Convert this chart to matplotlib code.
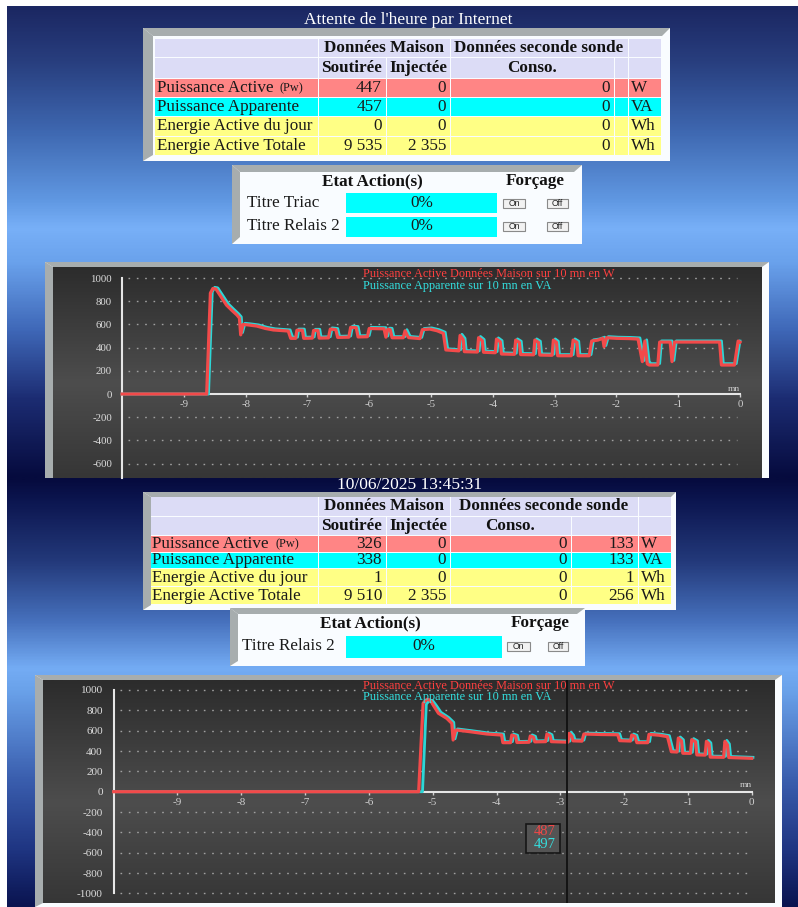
import numpy as np
import matplotlib
matplotlib.use("Agg")
import matplotlib.pyplot as plt
from matplotlib.patches import Rectangle, Polygon
from matplotlib.colors import LinearSegmentedColormap

plt.rcParams['font.family'] = ['Liberation Serif', 'DejaVu Serif']

W, H = 798, 907

# ---------------- data ----------------
titles = ["Attente de l'heure par Internet", "10/06/2025 13:45:31"]
row_labels = ["Puissance Active", "Puissance Apparente", "Energie Active du jour", "Energie Active Totale"]
units = ["W", "VA", "Wh", "Wh"]
col_heads = ["Soutirée", "Injectée", "Conso."]
group_heads = ["Données Maison", "Données seconde sonde"]

top_soutiree = ["447", "457", "0", "9 535"]
top_injectee = ["0", "0", "0", "2 355"]
top_conso = ["0", "0", "0", "0"]

bot_soutiree = ["326", "338", "1", "9 510"]
bot_injectee = ["0", "0", "0", "2 355"]
bot_conso = ["0", "0", "0", "0"]
bot_sonde2 = ["133", "133", "1", "256"]

top_actions = ["Titre Triac", "Titre Relais 2"]
top_action_vals = ["0%", "0%"]
bot_actions = ["Titre Relais 2"]
bot_action_vals = ["0%"]

legend_active = "Puissance Active Données Maison sur 10 mn en W"
legend_apparent = "Puissance Apparente sur 10 mn en VA"

x_ticks = [-9, -8, -7, -6, -5, -4, -3, -2, -1, 0]
y_ticks_top = [-600, -400, -200, 0, 200, 400, 600, 800, 1000]
y_ticks_bot = [-1000, -800, -600, -400, -200, 0, 200, 400, 600, 800, 1000]

# (minutes, W)
active_top = [(-10, 0), (-8.63, 0), (-8.57, 870), (-8.53, 910), (-8.48, 905), (-8.40, 840), (-8.31, 767),
              (-8.22, 720), (-8.14, 681), (-8.10, 655), (-8.08, 510), (-8.04, 600), (-7.95, 595), (-7.82, 586),
              (-7.68, 565), (-7.55, 552), (-7.31, 543), (-7.27, 480),
              (-7.19, 480), (-7.17, 550), (-7.08, 550), (-7.06, 480),
              (-6.92, 482), (-6.90, 548), (-6.83, 548), (-6.81, 482),
              (-6.66, 484), (-6.63, 560), (-6.54, 555), (-6.51, 488),
              (-6.33, 490), (-6.30, 575), (-6.21, 572), (-6.18, 492),
              (-6.03, 494), (-6.00, 565), (-5.76, 562), (-5.73, 490), (-5.70, 558), (-5.66, 556), (-5.63, 485),
              (-5.45, 485), (-5.42, 545), (-5.38, 500), (-5.36, 486),
              (-5.18, 478), (-5.14, 555), (-5.02, 560), (-4.90, 545), (-4.80, 523), (-4.76, 380),
              (-4.55, 372), (-4.53, 505), (-4.48, 470), (-4.46, 365),
              (-4.25, 362), (-4.23, 486), (-4.17, 460), (-4.15, 360),
              (-3.96, 356), (-3.94, 474), (-3.88, 450), (-3.86, 345),
              (-3.65, 342), (-3.63, 465), (-3.57, 445), (-3.55, 340),
              (-3.34, 338), (-3.32, 465), (-3.26, 445), (-3.24, 336),
              (-3.04, 334), (-3.02, 465), (-2.97, 445), (-2.95, 330),
              (-2.73, 330), (-2.70, 465), (-2.64, 445), (-2.62, 330),
              (-2.44, 330), (-2.40, 457), (-2.30, 465), (-2.22, 480), (-2.20, 408), (-2.16, 485), (-2.00, 480),
              (-1.80, 478), (-1.65, 474), (-1.58, 279), (-1.54, 457), (-1.50, 260), (-1.47, 250), (-1.33, 250),
              (-1.30, 448), (-1.13, 448), (-1.10, 279), (-1.06, 448), (-0.33, 448), (-0.30, 250), (-0.09, 250),
              (-0.03, 457), (0, 447)]

apparent_top = [(-10, 0), (-8.60, 0), (-8.54, 880), (-8.50, 920), (-8.45, 915), (-8.37, 850), (-8.28, 777),
                (-8.19, 730), (-8.11, 690), (-8.07, 665), (-8.05, 530), (-8.01, 610), (-7.92, 605), (-7.79, 596),
                (-7.65, 575), (-7.52, 562), (-7.28, 553), (-7.24, 490),
                (-7.16, 490), (-7.14, 560), (-7.05, 560), (-7.03, 490),
                (-6.89, 492), (-6.87, 558), (-6.80, 558), (-6.78, 492),
                (-6.63, 494), (-6.60, 570), (-6.51, 565), (-6.48, 498),
                (-6.30, 500), (-6.27, 585), (-6.18, 582), (-6.15, 502),
                (-6.00, 504), (-5.97, 575), (-5.73, 572), (-5.70, 500), (-5.67, 568), (-5.63, 566), (-5.60, 495),
                (-5.42, 495), (-5.39, 555), (-5.35, 510), (-5.33, 496),
                (-5.15, 488), (-5.11, 565), (-4.99, 570), (-4.87, 555), (-4.77, 533), (-4.73, 390),
                (-4.52, 382), (-4.50, 515), (-4.45, 480), (-4.43, 375),
                (-4.22, 372), (-4.20, 496), (-4.14, 470), (-4.12, 370),
                (-3.93, 366), (-3.91, 484), (-3.85, 460), (-3.83, 355),
                (-3.62, 352), (-3.60, 475), (-3.54, 455), (-3.52, 350),
                (-3.31, 348), (-3.29, 475), (-3.23, 455), (-3.21, 346),
                (-3.01, 344), (-2.99, 475), (-2.94, 455), (-2.92, 340),
                (-2.70, 340), (-2.67, 475), (-2.61, 455), (-2.59, 340),
                (-2.41, 340), (-2.37, 467), (-2.27, 475), (-2.19, 490), (-2.17, 418), (-2.13, 495), (-1.97, 490),
                (-1.77, 488), (-1.62, 484), (-1.55, 289), (-1.51, 467), (-1.47, 280), (-1.44, 262), (-1.30, 262),
                (-1.27, 458), (-1.10, 458), (-1.07, 289), (-1.03, 458), (-0.30, 458), (-0.27, 262), (-0.06, 262),
                (0.0, 457)]

# (minutes, W)
active_bot = [(-10, 0), (-5.22, 0), (-5.15, 870), (-5.09, 908), (-5.04, 900), (-4.98, 840), (-4.91, 771),
              (-4.78, 721), (-4.70, 672), (-4.68, 508), (-4.64, 607), (-4.42, 590), (-4.15, 567), (-3.92, 557),
              (-3.90, 482),
              (-3.78, 482), (-3.76, 557), (-3.70, 545), (-3.68, 484),
              (-3.49, 486), (-3.47, 548), (-3.42, 535), (-3.40, 490),
              (-3.23, 492), (-3.21, 567), (-3.16, 550), (-3.14, 492),
              (-2.88, 487), (-2.86, 574), (-2.82, 545), (-2.80, 500),
              (-2.66, 497), (-2.63, 567), (-2.35, 562), (-2.10, 560), (-2.07, 502),
              (-1.90, 498), (-1.88, 557), (-1.83, 545), (-1.80, 482),
              (-1.63, 482), (-1.61, 564), (-1.45, 555), (-1.32, 541), (-1.26, 393),
              (-1.17, 390), (-1.15, 528), (-1.10, 500), (-1.08, 378),
              (-0.96, 377), (-0.94, 512), (-0.88, 490), (-0.86, 362),
              (-0.73, 360), (-0.71, 495), (-0.67, 470), (-0.65, 340),
              (-0.44, 338), (-0.42, 495), (-0.38, 460), (-0.36, 336),
              (0, 328)]

apparent_bot = [(-10, 0), (-5.16, 0), (-5.10, 860), (-5.05, 900), (-5.00, 895), (-4.94, 845), (-4.87, 780),
                (-4.75, 730), (-4.67, 682), (-4.65, 520), (-4.61, 617), (-4.39, 600), (-4.12, 577), (-3.89, 567),
                (-3.87, 492),
                (-3.75, 492), (-3.73, 567), (-3.67, 555), (-3.65, 494),
                (-3.46, 496), (-3.44, 558), (-3.39, 545), (-3.37, 500),
                (-3.20, 502), (-3.18, 577), (-3.13, 560), (-3.11, 502),
                (-2.85, 497), (-2.83, 584), (-2.79, 555), (-2.77, 510),
                (-2.63, 507), (-2.60, 577), (-2.32, 572), (-2.07, 570), (-2.04, 512),
                (-1.87, 508), (-1.85, 567), (-1.80, 555), (-1.77, 492),
                (-1.60, 492), (-1.58, 574), (-1.42, 565), (-1.29, 551), (-1.23, 403),
                (-1.14, 400), (-1.12, 538), (-1.07, 510), (-1.05, 388),
                (-0.93, 387), (-0.91, 522), (-0.85, 500), (-0.83, 372),
                (-0.70, 370), (-0.68, 505), (-0.64, 480), (-0.62, 350),
                (-0.41, 348), (-0.39, 505), (-0.35, 470), (-0.33, 346),
                (0.02, 338)]

cursor_t = -2.89
cursor_vals = ["487", "497"]

# ---------------- styles ----------------
BEVEL = '#a7adae'
BOX_BG = '#f9fcff'
ROW_COLORS = ['#dcdcf6', '#dcdcf6', '#ff8585', '#00ffff', '#ffff85', '#ffff85']
RED = '#f24a4a'
CYAN = '#2cd6d6'
FS = 12.3

fig = plt.figure(figsize=(W / 100, H / 100), dpi=100)
fig.patch.set_facecolor('white')

page = fig.add_axes([0, 0, 1, 1], zorder=0)
page.set_xlim(0, W)
page.set_ylim(H, 0)
page.axis('off')

over = fig.add_axes([0, 0, 1, 1], zorder=5)
over.set_xlim(0, W)
over.set_ylim(H, 0)
over.axis('off')
over.patch.set_alpha(0)


def gradient(ax, x0, x1, y0, y1, stops, z=0):
    pos = [(s - y0) / (y1 - y0) for s, _ in stops]
    cmap = LinearSegmentedColormap.from_list('g', list(zip(pos, [c for _, c in stops])))
    ax.imshow(np.linspace(0, 1, 400).reshape(-1, 1), cmap=cmap, aspect='auto',
              extent=(x0, x1, y1, y0), zorder=z, interpolation='bilinear')


gradient(page, 7, W, 6, 478, [(6, '#1b2762'), (60, '#283e7e'), (130, '#3e67b0'), (200, '#6098e2'),
                             (228, '#78b0f8'), (262, '#6aa2ec'), (330, '#3f68b8'), (400, '#1c2c72'),
                             (478, '#060b3e')])
gradient(page, 7, W, 478, H, [(478, '#060b3e'), (500, '#0c1650'), (560, '#23397a'), (620, '#4670bc'),
                             (668, '#74acf4'), (690, '#6aa2ea'), (780, '#3a5eae'), (850, '#1f3582'),
                             (907, '#0a1450')])
page.set_xlim(0, W)
page.set_ylim(H, 0)


def draw_box(x0, y0, x1, y1, bl, bt, br, bb):
    page.add_patch(Rectangle((x0, y0), x1 - x0, y1 - y0, fc=BOX_BG, ec='none', zorder=1))
    page.add_patch(Polygon([(x0, y0), (x1, y0), (x1 - br, y0 + bt), (x0 + bl, y0 + bt)],
                           closed=True, fc=BEVEL, ec='none', zorder=1.1))
    page.add_patch(Polygon([(x0, y0), (x0 + bl, y0 + bt), (x0 + bl, y1 - bb), (x0, y1)],
                           closed=True, fc=BEVEL, ec='none', zorder=1.1))


def draw_table(box, cols, rows, lab_x, columns):
    draw_box(*box)
    ncol = len(cols) - 1
    for r in range(6):
        y0, y1 = rows[r], rows[r + 1]
        if r == 0:
            groups = [(0, 1), (1, 3), (3, ncol - 1), (ncol - 1, ncol)]
        else:
            groups = [(c, c + 1) for c in range(ncol)]
        for a, b in groups:
            page.add_patch(Rectangle((cols[a] + 0.5, y0 + 0.5), cols[b] - cols[a] - 1, y1 - y0 - 1,
                                     fc=ROW_COLORS[r], ec='none', zorder=2))
    yc = [(rows[i] + rows[i + 1]) / 2 + 0.5 for i in range(6)]
    page.text((cols[1] + cols[3]) / 2, yc[0], group_heads[0], ha='center', va='center',
              fontsize=FS, fontweight='bold', color='#111111', zorder=3)
    page.text((cols[3] + cols[5]) / 2, yc[0], group_heads[1], ha='center', va='center',
              fontsize=FS, fontweight='bold', color='#111111', zorder=3)
    for k, h in enumerate(col_heads):
        page.text((cols[k + 1] + cols[k + 2]) / 2, yc[1], h, ha='center', va='center',
                  fontsize=FS, fontweight='bold', color='#111111', zorder=3)
    for i in range(4):
        y = yc[i + 2]
        page.text(lab_x, y, row_labels[i], ha='left', va='center', fontsize=FS, color='#1a1a1a', zorder=3)
        if i == 0:
            page.text(lab_x + 123, y + 0.5, "(Pw)", ha='left', va='center', fontsize=8.8,
                      color='#1a1a1a', zorder=3)
        for k, vals in enumerate(columns):
            page.text(cols[k + 2] - 4, y, vals[i], ha='right', va='center', fontsize=FS,
                      color='#1a1a1a', zorder=3)
        page.text(cols[ncol - 1] + 3, y, units[i], ha='left', va='center', fontsize=FS,
                  color='#1a1a1a', zorder=3)


def button(x0, y0, x1, y1, label):
    page.add_patch(Rectangle((x0, y0), x1 - x0, y1 - y0, fc='#f2f2f2', ec='#8a8a8a', lw=0.8, zorder=3))
    page.text((x0 + x1) / 2, (y0 + y1) / 2 + 0.3, label, ha='center', va='center', fontsize=6.2,
              family=['Liberation Sans', 'DejaVu Sans'], color='#222222', zorder=4)


def draw_actions(box, head_y, head_x, rows_y, labels, vals, lab_x, bar_x, bar_h, on_x, off_x):
    draw_box(*box)
    page.text(head_x[0], head_y, "Etat Action(s)", ha='center', va='center', fontsize=FS,
              fontweight='bold', color='#111111', zorder=3)
    page.text(head_x[1], head_y, "Forçage", ha='center', va='center', fontsize=FS,
              fontweight='bold', color='#111111', zorder=3)
    for y, lab, v in zip(rows_y, labels, vals):
        page.text(lab_x, y, lab, ha='left', va='center', fontsize=FS, color='#1a1a1a', zorder=3)
        page.add_patch(Rectangle((bar_x[0], y - bar_h / 2), bar_x[1] - bar_x[0], bar_h,
                                 fc='#00ffff', ec='none', zorder=2))
        page.text((bar_x[0] + bar_x[1]) / 2, y, v, ha='center', va='center', fontsize=FS,
                  color='#1a1a1a', zorder=3)
        button(on_x[0], y - 4.5, on_x[1], y + 4.5, "On")
        button(off_x[0], y - 4.5, off_x[1], y + 4.5, "Off")


# ---------------- top screen ----------------
page.text(408, 20, titles[0], ha='center', va='center', fontsize=12.5, color='white', zorder=3)
draw_table((143, 28, 670, 161, 10, 8, 8, 6),
           [154, 318, 386, 450, 614, 628, 661], [38, 57, 78, 97, 116, 136, 155], 157,
           [top_soutiree, top_injectee, top_conso])
draw_actions((232, 165, 582, 244, 8, 7, 8, 7), 181, (372, 535), [203, 226.5], top_actions, top_action_vals,
             247, (346, 497), 20, (503, 525), (547, 568))

# ---------------- bottom screen ----------------
page.text(410, 485, titles[1], ha='center', va='center', fontsize=12.5, color='white', zorder=3)
draw_table((143, 492, 676, 610, 8, 5, 5, 5),
           [150, 318, 386, 450, 571, 638, 671], [496, 516, 535, 552, 568, 586, 604], 152,
           [bot_soutiree, bot_injectee, bot_conso, bot_sonde2])
draw_actions((230, 608, 585, 666, 8, 6, 8, 5), 623, (370, 540), [646.5], bot_actions, bot_action_vals,
             242, (346, 502), 22, (507, 530), (548, 568))

# chart frames
draw_box(45, 262, 769, 478, 8, 5, 7, 0)
draw_box(35, 675, 782, 907, 8, 5, 7, 4)


def chart(px, xlim, ylim, yticks, ybottom, fs, ypad, active, apparent):
    x0, y0, x1, y1 = px
    ax = fig.add_axes([x0 / W, 1 - y1 / H, (x1 - x0) / W, (y1 - y0) / H], zorder=1)
    cmap = LinearSegmentedColormap.from_list('bg', [(0, '#2c2c2c'), (0.55, '#4d4d4d'), (1, '#363636')])
    ax.imshow(np.linspace(0, 1, 300).reshape(-1, 1), cmap=cmap, aspect='auto',
              extent=(0, 1, 0, 1), transform=ax.transAxes, zorder=0)
    ax.set_xlim(*xlim)
    ax.set_ylim(*ylim)
    for s in ['top', 'right']:
        ax.spines[s].set_visible(False)
    ax.spines['bottom'].set_position(('data', 0))
    ax.spines['bottom'].set_bounds(-10, 0)
    ax.spines['left'].set_position(('data', -10))
    ax.spines['left'].set_bounds(ybottom, 1000)
    for s in ['bottom', 'left']:
        ax.spines[s].set_color('#e6e6e6')
        ax.spines[s].set_linewidth(1.5)
        ax.spines[s].set_zorder(2.5)
    ax.set_xticks(x_ticks)
    ax.set_xticklabels([str(v) for v in x_ticks])
    ax.set_yticks(yticks)
    ax.set_yticklabels([str(v) for v in yticks])
    ax.tick_params(axis='x', length=2.5, width=1, color='#d0d0d0', labelcolor='#cfcfcf',
                   labelsize=fs, pad=2)
    ax.tick_params(axis='y', length=0, labelcolor='#dcdcdc', labelsize=fs, pad=ypad)
    grid = [v for v in yticks if v != 0]
    ax.hlines(grid, -9.9, -0.05, colors='#a0a0a0', linestyles=[(0, (1.2, 4.8))], lw=1.0, zorder=1)
    ta, va = zip(*apparent)
    ax.plot(ta, va, color=CYAN, lw=2.0, zorder=3, solid_joinstyle='round')
    tr, vr = zip(*active)
    ax.plot(tr, vr, color=RED, lw=2.3, zorder=4, solid_joinstyle='round')
    ax.set_xlim(*xlim)
    ax.set_ylim(*ylim)
    return ax


ax1 = chart((53, 267, 762, 478), (-11.117, 0.356), (-724, 1095), y_ticks_top, -724, 7.8, 7.2,
            active_top, apparent_top)
ax2 = chart((43, 680, 775, 903), (-11.108, 0.365), (-1094, 1098), y_ticks_bot, -1000, 8.0, 7.9,
            active_bot, apparent_bot)
ax2.axvline(cursor_t, color='#111111', lw=1.3, zorder=5)

# legends and labels on top of the charts
for (y1, y2) in [(274, 286), (686, 697)]:
    over.text(363, y1, legend_active, ha='left', va='center', fontsize=8.8, color='#ff4040')
    over.text(363, y2, legend_apparent, ha='left', va='center', fontsize=8.8, color='#33e0e0')
over.text(734, 393, "mn", ha='center', va='bottom', fontsize=6.8, color='#d0d0d0')
over.text(746, 789, "mn", ha='center', va='bottom', fontsize=6.8, color='#d0d0d0')

over.add_patch(Rectangle((526, 823.5), 33.5, 29, fc='#545454', ec='#161616', lw=1.2))
over.text(556, 831.5, cursor_vals[0], ha='right', va='center', fontsize=10.5, color='#f04848')
over.text(556, 844.5, cursor_vals[1], ha='right', va='center', fontsize=10.5, color='#35dede')

fig.savefig('out.png', dpi=100, facecolor='white')
